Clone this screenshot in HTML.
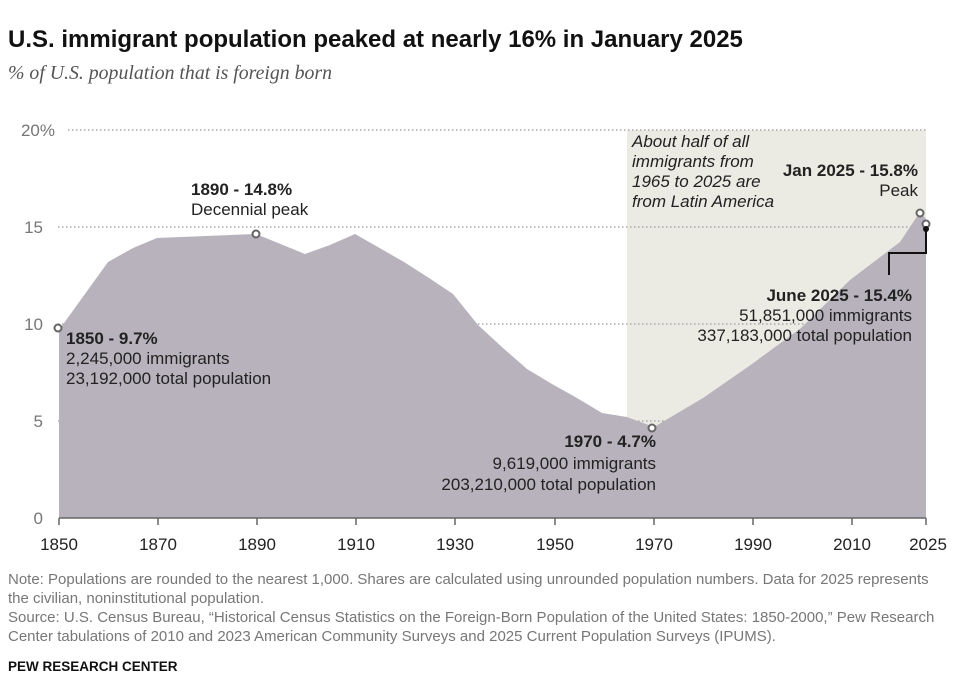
<!DOCTYPE html>
<html><head><meta charset="utf-8"><style>
body{margin:0;background:#fff;width:964px;height:693px;overflow:hidden;font-family:"Liberation Sans",sans-serif;color:#222}
</style></head><body>
<svg width="964" height="693" xmlns="http://www.w3.org/2000/svg" font-family="Liberation Sans, sans-serif">
<text x="8" y="47" font-size="24" font-weight="bold" fill="#111">U.S. immigrant population peaked at nearly 16% in January 2025</text>
<text x="8" y="79" font-size="19.8" font-style="italic" fill="#555" font-family="Liberation Serif, serif">% of U.S. population that is foreign born</text>
<rect x="627" y="130" width="299" height="388" fill="#ecebe3"/>
<g stroke="#999" stroke-width="1.3" stroke-dasharray="1.5,2.5">
<line x1="68" y1="130" x2="926" y2="130"/><line x1="58" y1="227" x2="926" y2="227"/>
<line x1="58" y1="324" x2="926" y2="324"/><line x1="58" y1="421" x2="926" y2="421"/>
</g>
<polygon fill="#b7b2bc" points="59,518 59,330 108,262 133,248 157,238 256,234 305,254 330,245 355,234 404,262 429,278 453,294 478,325 503,348 527,369 552,384 577,398 602,413 627,417 654,427 703,398 752,364 801,328 850,280 900,242 920,212 926,219 926,518"/>
<g stroke="#666" stroke-width="1.5">
<line x1="59" y1="518" x2="926" y2="518"/>
<line x1="59" y1="518" x2="59" y2="525"/><line x1="158" y1="518" x2="158" y2="525"/><line x1="257" y1="518" x2="257" y2="525"/><line x1="356" y1="518" x2="356" y2="525"/><line x1="455" y1="518" x2="455" y2="525"/><line x1="555" y1="518" x2="555" y2="525"/><line x1="654" y1="518" x2="654" y2="525"/><line x1="753" y1="518" x2="753" y2="525"/><line x1="852" y1="518" x2="852" y2="525"/><line x1="926" y1="518" x2="926" y2="525"/>
</g>
<g font-size="17" fill="#222" text-anchor="middle">
<text x="59" y="550">1850</text><text x="158" y="550">1870</text><text x="257" y="550">1890</text><text x="356" y="550">1910</text><text x="455" y="550">1930</text><text x="555" y="550">1950</text><text x="654" y="550">1970</text><text x="753" y="550">1990</text><text x="852" y="550">2010</text><text x="928" y="550">2025</text>
</g>
<g font-size="17" fill="#777" text-anchor="end">
<text x="55" y="136">20%</text><text x="43" y="233">15</text><text x="43" y="330">10</text><text x="43" y="427">5</text><text x="43" y="524">0</text>
</g>
<g fill="#fff" stroke="#666" stroke-width="2">
<circle cx="58" cy="328" r="3.5"/><circle cx="256" cy="234" r="3.5"/><circle cx="652" cy="428" r="3.5"/><circle cx="920" cy="213" r="3.5"/><circle cx="926" cy="224" r="3.5"/>
</g>
<polyline points="926,229 926,253 889,253 889,275" fill="none" stroke="#111" stroke-width="2"/>
<circle cx="926" cy="229" r="3" fill="#111"/>
<g font-size="17" fill="#222">
<text x="191" y="195" font-weight="bold">1890 - 14.8%</text><text x="191" y="215">Decennial peak</text>
<text x="66" y="344" font-weight="bold">1850 - 9.7%</text><text x="66" y="364">2,245,000 immigrants</text><text x="66" y="384">23,192,000 total population</text>
<g text-anchor="end"><text x="656" y="447" font-weight="bold">1970 - 4.7%</text><text x="656" y="469">9,619,000 immigrants</text><text x="656" y="490">203,210,000 total population</text>
<text x="918" y="176" font-weight="bold">Jan 2025 - 15.8%</text><text x="918" y="196">Peak</text>
<text x="912" y="301" font-weight="bold">June 2025 - 15.4%</text><text x="912" y="321">51,851,000 immigrants</text><text x="912" y="341">337,183,000 total population</text></g>
<g font-style="italic"><text x="632" y="147">About half of all</text><text x="632" y="167">immigrants from</text><text x="632" y="187">1965 to 2025 are</text><text x="632" y="207">from Latin America</text></g>
</g>
<g font-size="15" fill="#777">
<text x="8" y="584">Note: Populations are rounded to the nearest 1,000. Shares are calculated using unrounded population numbers. Data for 2025 represents</text>
<text x="8" y="603">the civilian, noninstitutional population.</text>
<text x="8" y="622">Source: U.S. Census Bureau, “Historical Census Statistics on the Foreign-Born Population of the United States: 1850-2000,” Pew Research</text>
<text x="8" y="641">Center tabulations of 2010 and 2023 American Community Surveys and 2025 Current Population Surveys (IPUMS).</text>
</g>
<text x="8" y="671" font-size="13.5" font-weight="bold" fill="#111">PEW RESEARCH CENTER</text>
</svg>
</body></html>
